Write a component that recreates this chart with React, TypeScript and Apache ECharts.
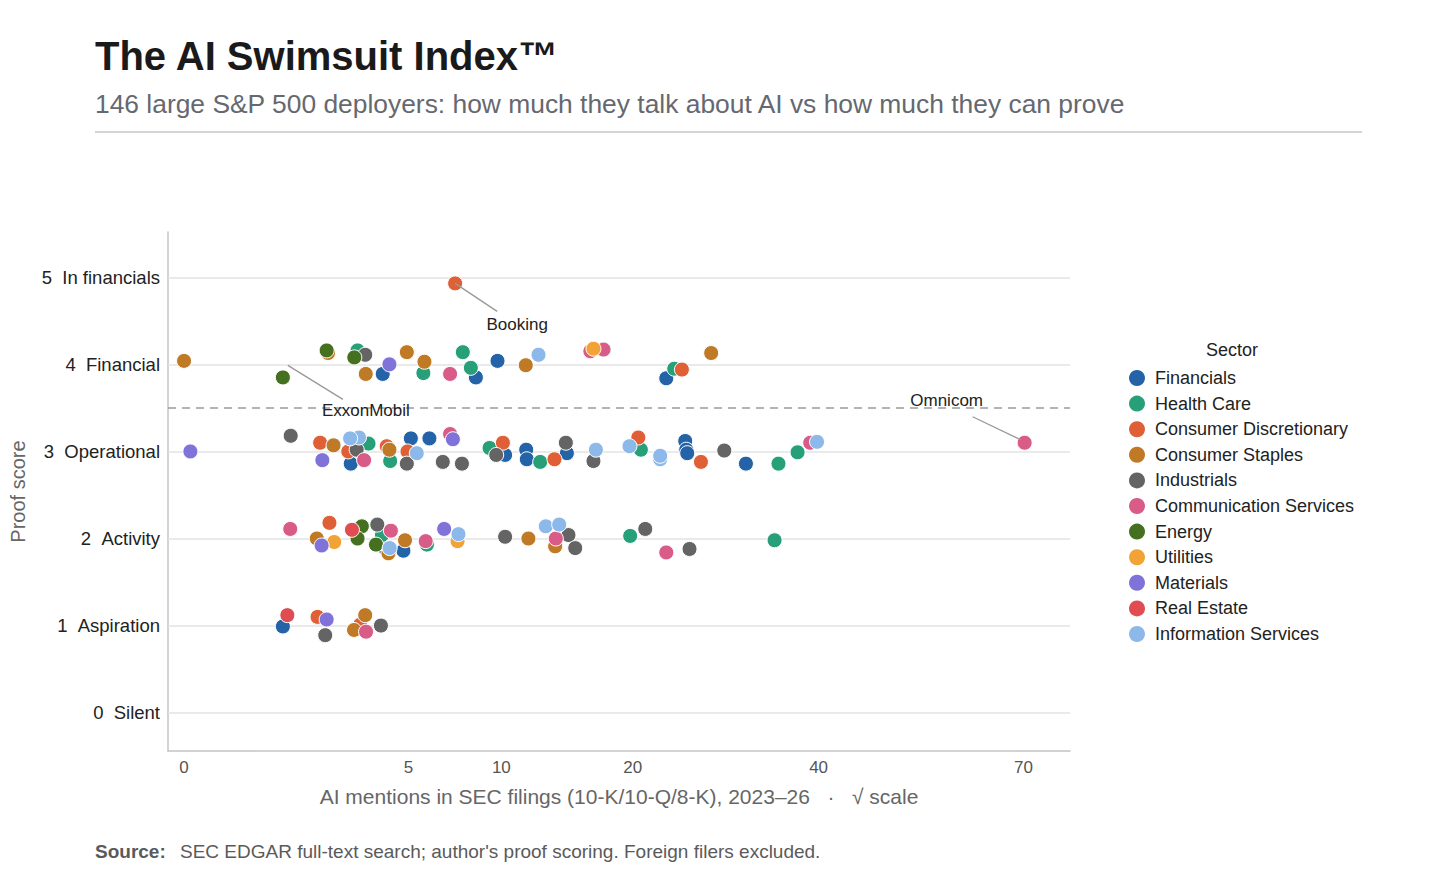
import React, { useEffect, useRef } from "react";
import * as echarts from "echarts";

// ---- Data (mentions = AI mentions in SEC filings, score = proof score incl. jitter) ----
const sectors = [
  "Financials",
  "Health Care",
  "Consumer Discretionary",
  "Consumer Staples",
  "Industrials",
  "Communication Services",
  "Energy",
  "Utilities",
  "Materials",
  "Real Estate",
  "Information Services",
];

const sectorColors = [
  "#2463a8",
  "#27a07a",
  "#df6036",
  "#c07a25",
  "#646464",
  "#d95b88",
  "#44701f",
  "#f2a335",
  "#7f72d8",
  "#e04c52",
  "#8db8ea",
];

const financials = [
  [3.92, 3.89], [8.46, 3.85], [9.76, 4.04], [23.1, 3.84],
  [2.76, 2.86], [5.11, 3.15], [5.98, 3.15], [10.24, 2.96], [11.63, 3.02], [11.67, 2.91],
  [14.56, 2.98], [24.95, 3.12], [25.05, 3.02], [25.15, 2.98], [31.36, 2.86],
  [3.98, 1.9], [4.78, 1.86],
  [0.97, 0.99],
];
const healthCare = [
  [2.99, 4.16], [5.69, 3.9], [7.72, 4.14], [8.17, 3.96], [23.87, 3.95],
  [3.38, 3.09], [4.22, 2.89], [9.27, 3.04], [12.6, 2.88], [20.73, 3.02], [35.1, 2.86], [37.39, 2.99],
  [3.89, 2.04], [5.86, 1.93], [19.77, 2.03], [34.64, 1.98],
];
const consumerDiscretionary = [
  [7.3, 4.93],
  [24.62, 3.94],
  [1.84, 3.1], [2.68, 3.0], [4.08, 3.06], [4.96, 3.0], [10.1, 3.1], [13.63, 2.91], [20.5, 3.16], [26.54, 2.88],
  [2.1, 2.18],
  [1.77, 1.1], [3.08, 1.01],
];
const consumerStaples = [
  [0.0, 4.04], [2.06, 4.13], [3.28, 3.89], [4.93, 4.14], [5.74, 4.03], [11.6, 3.99], [27.6, 4.13],
  [2.22, 3.07], [4.19, 3.02],
  [1.75, 2.0], [4.15, 1.83], [4.85, 1.98], [11.78, 2.0], [13.68, 1.91],
  [3.26, 1.12], [2.87, 0.95],
];
const industrials = [
  [3.26, 4.11],
  [1.13, 3.18], [2.96, 3.02], [4.93, 2.86], [6.65, 2.88], [7.67, 2.86], [9.68, 2.96], [14.48, 3.1],
  [16.65, 2.89], [28.99, 3.01],
  [3.71, 2.16], [10.24, 2.02], [14.68, 2.04], [15.2, 1.89], [21.13, 2.11], [25.38, 1.88],
  [1.98, 0.89], [3.85, 1.0],
];
const communicationServices = [
  [7.03, 3.89], [16.4, 4.15], [17.48, 4.17],
  [3.22, 2.9], [7.03, 3.2], [38.95, 3.1], [70.19, 3.1],
  [1.12, 2.11], [4.25, 2.09], [5.8, 1.97], [13.73, 2.0], [23.1, 1.84],
  [3.29, 0.93],
];
const energy = [
  [0.97, 3.85], [2.02, 4.16], [2.88, 4.08],
  [3.14, 2.14], [2.99, 2.0], [3.66, 1.93],
];
const utilities = [
  [16.65, 4.18],
  [2.24, 1.96], [7.43, 1.97],
];
const materials = [
  [4.19, 4.0],
  [0.004, 3.0], [1.9, 2.9], [7.18, 3.14],
  [1.88, 1.92], [6.72, 2.11],
  [2.02, 1.07],
];
const realEstate = [
  [2.8, 2.1],
  [1.06, 1.12],
];
const informationServices = [
  [12.48, 4.11],
  [3.04, 3.16], [2.74, 3.15], [5.38, 2.98], [16.85, 3.02], [19.71, 3.06], [22.52, 2.91], [22.52, 2.95], [39.8, 3.11],
  [4.2, 1.89], [7.48, 2.05], [13.0, 2.14], [13.98, 2.16],
];

const sectorData = [
  financials, healthCare, consumerDiscretionary, consumerStaples, industrials,
  communicationServices, energy, utilities, materials, realEstate, informationServices,
];

const scoreTicks = [0, 1, 2, 3, 4, 5];
const scoreNames = ["Silent", "Aspiration", "Activity", "Operational", "Financial", "In financials"];
const mentionTicks = [0, 5, 10, 20, 40, 70];
const threshold = 3.5;

const annotations = [
  { label: "Booking", mentions: 7.3, score: 4.93 },
  { label: "ExxonMobil", mentions: 0.97, score: 3.85 },
  { label: "Omnicom", mentions: 70.19, score: 3.1 },
];

// pixel offsets for annotation leader lines / labels (layout only)
const annotationLayout: Record<string, { line: number[]; text: number[] }> = {
  Booking: { line: [0, 0, 42, 28], text: [62, 41] },
  ExxonMobil: { line: [5, -12, 60, 22], text: [83, 33] },
  Omnicom: { line: [-52, -26, -4, -3], text: [-78, -42] },
};

const FONT = "'Liberation Sans', Arial, Helvetica, sans-serif";
const NB = "\u00a0";

export default function App() {
  const ref = useRef<HTMLDivElement>(null);

  useEffect(() => {
    const el = ref.current;
    if (!el) return;
    const chart = echarts.init(el, null, { renderer: "svg" });

    const series: any[] = sectors.map((name, i) => ({
      name,
      type: "scatter",
      data: sectorData[i].map(([m, s]) => [Math.sqrt(m), s, m]),
      symbol: "circle",
      symbolSize: 15,
      z: 3,
      itemStyle: { color: sectorColors[i], borderColor: "#ffffff", borderWidth: 1, opacity: 1 },
      emphasis: { disabled: true },
    }));

    series.push({
      name: "__gridlines",
      type: "scatter",
      data: [],
      silent: true,
      markLine: {
        silent: true,
        symbol: "none",
        z: 1,
        animation: false,
        label: { show: false },
        lineStyle: { color: "#e3e3e3", width: 1.5, type: "solid" },
        data: [
          ...scoreTicks.map((v) => ({ yAxis: v })),
          { yAxis: threshold, lineStyle: { color: "#9c9c9c", width: 1.5, type: [8, 6] } },
        ],
      },
    });

    chart.setOption({
      animation: false,
      backgroundColor: "#ffffff",
      textStyle: { fontFamily: FONT },
      grid: {
        left: 168,
        top: 232,
        width: 902,
        height: 519,
        containLabel: false,
        outerBoundsMode: "none",
      },
      legend: {
        orient: "vertical",
        left: 1124,
        top: 364,
        itemWidth: 16,
        itemHeight: 16,
        itemGap: 7.6,
        icon: "circle",
        data: sectors,
        itemStyle: { borderWidth: 0 },
        textStyle: { fontFamily: FONT, fontSize: 18, color: "#222222", padding: [0, 0, 0, 5] },
        selectedMode: false,
      },
      xAxis: {
        type: "value",
        min: -0.16,
        max: 8.83,
        name: `AI mentions in SEC filings (10-K/10-Q/8-K), 2023–26${NB}${NB}${NB}·${NB}${NB}${NB}√ scale`,
        nameLocation: "middle",
        nameGap: 35,
        nameTextStyle: { fontFamily: FONT, fontSize: 21, color: "#666666" },
        axisLine: { show: true, onZero: false, lineStyle: { color: "#c4c4c4", width: 1.5 } },
        axisTick: { show: false },
        splitLine: { show: false },
        axisLabel: {
          customValues: mentionTicks.map((t) => Math.sqrt(t)),
          formatter: (v: number) => String(Math.round(v * v)),
          fontFamily: FONT,
          fontSize: 17,
          color: "#555555",
          margin: 8,
        },
      },
      yAxis: {
        type: "value",
        min: -0.44,
        max: 5.52,
        name: "Proof score",
        nameLocation: "middle",
        nameGap: 140,
        nameTextStyle: { fontFamily: FONT, fontSize: 20, color: "#666666" },
        axisLine: { show: true, onZero: false, lineStyle: { color: "#c4c4c4", width: 1.5 } },
        axisTick: { show: false },
        splitLine: { show: false },
        axisLabel: {
          customValues: scoreTicks,
          formatter: (v: number) => {
            const i = scoreTicks.indexOf(Math.round(v));
            return i >= 0 ? `${scoreTicks[i]}${NB}${NB}${scoreNames[i]}` : "";
          },
          fontFamily: FONT,
          fontSize: 18.5,
          color: "#222222",
          margin: 8,
        },
      },
      series,
    });

    const elements: any[] = [
      {
        type: "text",
        x: 95,
        y: 56,
        z: 10,
        style: {
          text: "The AI Swimsuit Index™",
          fill: "#1a1a1a",
          fontFamily: FONT,
          fontSize: 40,
          fontWeight: "bold",
          align: "left",
          textAlign: "left",
          verticalAlign: "middle",
          textVerticalAlign: "middle",
        },
      },
      {
        type: "text",
        x: 95,
        y: 104,
        z: 10,
        style: {
          text: "146 large S&P 500 deployers: how much they talk about AI vs how much they can prove",
          fill: "#666870",
          fontFamily: FONT,
          fontSize: 26.4,
          align: "left",
          textAlign: "left",
          verticalAlign: "middle",
          textVerticalAlign: "middle",
        },
      },
      {
        type: "line",
        z: 10,
        shape: { x1: 95, y1: 132, x2: 1362, y2: 132 },
        style: { stroke: "#d4d4d4", lineWidth: 2 },
      },
      {
        type: "text",
        x: 1232,
        y: 350,
        z: 10,
        style: {
          text: "Sector",
          fill: "#222222",
          fontFamily: FONT,
          fontSize: 18,
          align: "center",
          textAlign: "center",
          verticalAlign: "middle",
          textVerticalAlign: "middle",
        },
      },
      {
        type: "text",
        x: 95,
        y: 851,
        z: 10,
        style: {
          text: "Source:",
          fill: "#5a5a5a",
          fontFamily: FONT,
          fontSize: 19,
          fontWeight: "bold",
          align: "left",
          textAlign: "left",
          verticalAlign: "middle",
          textVerticalAlign: "middle",
        },
      },
      {
        type: "text",
        x: 180,
        y: 851,
        z: 10,
        style: {
          text: "SEC EDGAR full-text search; author's proof scoring. Foreign filers excluded.",
          fill: "#5a5a5a",
          fontFamily: FONT,
          fontSize: 19,
          align: "left",
          textAlign: "left",
          verticalAlign: "middle",
          textVerticalAlign: "middle",
        },
      },
    ];

    annotations.forEach((a) => {
      const p = chart.convertToPixel({ gridIndex: 0 }, [Math.sqrt(a.mentions), a.score]) as number[];
      const lay = annotationLayout[a.label];
      if (!p || !lay) return;
      elements.push({
        type: "line",
        z: 10,
        silent: true,
        shape: {
          x1: p[0] + lay.line[0],
          y1: p[1] + lay.line[1],
          x2: p[0] + lay.line[2],
          y2: p[1] + lay.line[3],
        },
        style: { stroke: "#999999", lineWidth: 1.3 },
      });
      elements.push({
        type: "text",
        z: 10,
        silent: true,
        x: p[0] + lay.text[0],
        y: p[1] + lay.text[1],
        style: {
          text: a.label,
          fill: "#222222",
          fontFamily: FONT,
          fontSize: 17,
          align: "center",
          textAlign: "center",
          verticalAlign: "middle",
          textVerticalAlign: "middle",
        },
      });
    });

    chart.setOption({ graphic: { elements } });

    return () => {
      chart.dispose();
    };
  }, []);

  return (
    <div
      ref={ref}
      style={{ position: "fixed", left: 0, top: 0, width: 1456, height: 895, background: "#ffffff" }}
    />
  );
}
